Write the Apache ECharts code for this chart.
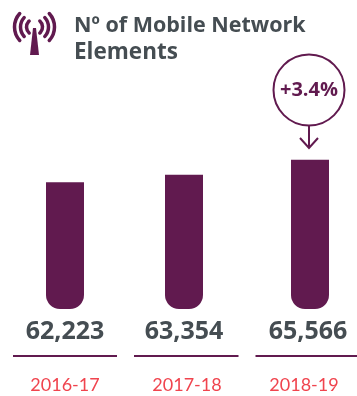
<!DOCTYPE html>
<html>
<head>
<meta charset="utf-8">
<style>html,body{margin:0;padding:0;background:#fff}#c{width:357px;height:396px}</style>
<script src="https://cdn.jsdelivr.net/npm/echarts@6/dist/echarts.min.js"></script>
</head>
<body>
<div id="c"></div>
<script>
// Mobile network elements per financial year
const years = ['2016-17', '2017-18', '2018-19'];
const elements = [62223, 63354, 65566];
const growthLabel = '+3.4%';
const titleFirstLine = 'N\u00ba of Mobile Network';
const titleSecondLine = 'Elements';

const PURPLE = '#611a4f';
const SLATE = '#454d52';
const RED = '#f0444e';
const FONT = '"Open Sans", sans-serif';

// One panel per year: the columns are not evenly spaced
const barCentres = [65, 184, 310];
const yearNudge = [0, 3, -6];
const valueNudge = [0, 0, -2];
const PANEL_HALF = 40;
const AXIS_MIN = 43400, AXIS_MAX = 70000;

const grids = [], xAxes = [], yAxes = [], series = [];
years.forEach((year, i) => {
  const nudge = yearNudge[i];
  grids.push({ left: barCentres[i] - PANEL_HALF, width: PANEL_HALF * 2, top: 130, height: 179 });
  xAxes.push({
    gridIndex: i, type: 'category', data: [year], offset: 47,
    axisTick: { show: false },
    axisLine: { show: false },
    axisLabel: {
      color: RED, fontSize: 18, fontFamily: 'Lato, sans-serif', margin: 20,
      padding: [0, nudge < 0 ? -2 * nudge : 0, 0, nudge > 0 ? 2 * nudge : 0]
    }
  });
  yAxes.push({ gridIndex: i, type: 'value', min: AXIS_MIN, max: AXIS_MAX, show: false });
  series.push({
    type: 'bar', xAxisIndex: i, yAxisIndex: i,
    data: [elements[i]],
    barWidth: 38,
    itemStyle: { color: PURPLE, borderRadius: [0, 0, 14, 14] },
    label: {
      show: true, position: 'bottom', distance: 10, offset: [valueNudge[i], 0],
      formatter: p => p.value.toLocaleString('en-US'),
      color: SLATE, fontSize: 25, fontWeight: 700, fontFamily: FONT
    }
  });
});

// Tower icon, growth callout and rules under the values
const rule = (x1, x2) => ({
  type: 'line', shape: { x1, y1: 356, x2, y2: 356 },
  style: { stroke: PURPLE, lineWidth: 2 }
});
const arc = (r, startAngle, endAngle) => ({
  type: 'arc', shape: { cx: 34.5, cy: 27, r, startAngle, endAngle },
  style: { stroke: PURPLE, lineWidth: 3.5, fill: null, lineCap: 'round' }
});
const graphic = [
  rule(13, 117), rule(134, 238.5), rule(255.5, 357),
  arc(20, 2.4, 3.88), arc(20, -0.74, 0.74),
  arc(14, 2.4, 3.88), arc(14, -0.74, 0.74),
  arc(8, 2.3, 3.98), arc(8, -0.84, 0.84),
  { type: 'polygon', shape: { points: [[33, 28], [36, 28], [39, 55], [30, 55]] }, style: { fill: PURPLE } },
  { type: 'circle', shape: { cx: 309, cy: 90, r: 35.5 }, style: { stroke: PURPLE, lineWidth: 2, fill: '#fff' } },
  { type: 'line', shape: { x1: 309, y1: 125, x2: 309, y2: 148 }, style: { stroke: PURPLE, lineWidth: 2 } },
  { type: 'polyline', shape: { points: [[300, 138], [309, 148], [318, 138]] }, style: { stroke: PURPLE, lineWidth: 2, fill: null } },
  { type: 'text', x: 309, y: 90.5, style: { text: growthLabel, fill: PURPLE, font: '700 20px ' + FONT, align: 'center', verticalAlign: 'middle' } },
  { type: 'text', x: 74, y: 26, style: { text: titleFirstLine, fill: SLATE, font: '700 21.5px ' + FONT, verticalAlign: 'middle' } },
  { type: 'text', x: 74, y: 53, style: { text: titleSecondLine, fill: SLATE, font: '700 22.5px ' + FONT, verticalAlign: 'middle' } }
];

const chart = echarts.init(document.getElementById('c'));
chart.setOption({
  animation: false,
  backgroundColor: '#fff',
  grid: grids, xAxis: xAxes, yAxis: yAxes, series, graphic
});
</script>
</body>
</html>
